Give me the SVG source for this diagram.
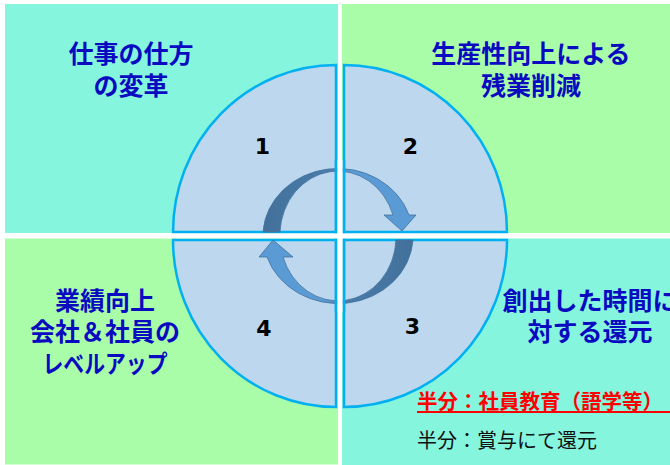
<svg xmlns="http://www.w3.org/2000/svg" width="670" height="465" viewBox="0 0 670 465">
<defs>
<style>
.teal{fill:#86F5DE}
.green{fill:#A9FDA8}
.pie{fill:#BDD7EE;stroke:#00B0F0;stroke-width:2.5}
.num{font-family:"DejaVu Sans","Liberation Sans",sans-serif;font-weight:bold;font-size:22px;fill:#000;text-anchor:middle}
.title{font-family:"Noto Sans CJK JP","Noto Sans",sans-serif;font-weight:bold;font-size:25px;fill:#0A0AC0;text-anchor:middle}
.red{font-family:"Noto Sans CJK JP",sans-serif;font-weight:bold;font-size:20.5px;fill:#FF0000}
.note{font-family:"Noto Sans CJK JP",sans-serif;font-size:20px;fill:#111}
.arrow{stroke:#41719C;stroke-width:0.8}
.edge{stroke:#00B0F0;stroke-width:2.5}
</style>
<linearGradient id="gUp" gradientUnits="userSpaceOnUse" x1="263" y1="0" x2="416" y2="0">
<stop offset="0" stop-color="#42709A"/>
<stop offset="0.42" stop-color="#4A7CAA"/>
<stop offset="0.58" stop-color="#5B9BD5"/>
<stop offset="1" stop-color="#5B9BD5"/>
</linearGradient>
<linearGradient id="gDown" gradientUnits="userSpaceOnUse" x1="413" y1="0" x2="259" y2="0">
<stop offset="0" stop-color="#42709A"/>
<stop offset="0.42" stop-color="#4A7CAA"/>
<stop offset="0.58" stop-color="#5B9BD5"/>
<stop offset="1" stop-color="#5B9BD5"/>
</linearGradient>
</defs>

<g id="backgrounds">
<rect class="teal" x="5" y="4" width="333" height="229"/>
<rect class="green" x="342" y="4" width="328" height="229"/>
<rect class="green" x="5" y="238.5" width="333" height="226"/>
<rect class="teal" x="342" y="238.5" width="328" height="226.5"/>
</g>

<g id="node-1">
<path class="pie" d="M336,232 L173,232 A163,167 0 0 1 336,65 Z"/>
<text class="num" x="262.5" y="154">1</text>
</g>
<g id="node-2">
<path class="pie" d="M344,232 L344,65 A163,167 0 0 1 507,232 Z"/>
<text class="num" x="410.5" y="154">2</text>
</g>
<g id="node-3">
<path class="pie" d="M344,240 L507,240 A163,167 0 0 1 344,407 Z"/>
<text class="num" x="412.5" y="334">3</text>
</g>
<g id="node-4">
<path class="pie" d="M336,240 L336,407 A163,167 0 0 1 173,240 Z"/>
<text class="num" x="264" y="336">4</text>
</g>

<g id="connectors">
<path class="arrow" fill="url(#gUp)" d="M263,232 A75,68 0 0 1 409,215 L416,215 L402,231 L384,215 L393,215 A58,64 0 0 0 280,232 Z"/>
<path class="arrow" fill="url(#gDown)" d="M413,240 A75,68 0 0 1 267,257 L259,257 L273,240 L293,257 L283,257 A58,64 0 0 0 396,240 Z"/>
</g>

<g id="gap-overlay">
<rect x="337.25" y="160" width="5.5" height="152" fill="#FFFFFF"/>
<line class="edge" x1="336" y1="160" x2="336" y2="233.25"/>
<line class="edge" x1="344" y1="160" x2="344" y2="233.25"/>
<line class="edge" x1="336" y1="238.75" x2="336" y2="312"/>
<line class="edge" x1="344" y1="238.75" x2="344" y2="312"/>
</g>

<g id="label-tl">
<text class="title" x="131" y="63">仕事の仕方</text>
<text class="title" x="131" y="95">の変革</text>
</g>
<g id="label-tr">
<text class="title" x="531" y="63">生産性向上による</text>
<text class="title" x="531" y="95">残業削減</text>
</g>
<g id="label-bl">
<text class="title" x="105" y="310">業績向上</text>
<text class="title" x="105" y="341">会社＆社員の</text>
<text class="title" x="105" y="373" textLength="125" lengthAdjust="spacingAndGlyphs">レベルアップ</text>
</g>
<g id="label-br">
<text class="title" x="590" y="310">創出した時間に</text>
<text class="title" x="590" y="341">対する還元</text>
<text class="red" x="417" y="408.5">半分：社員教育（語学等）</text>
<line x1="417" y1="412" x2="670" y2="412" stroke="#FF0000" stroke-width="1.8"/>
<text class="note" x="417" y="448">半分：賞与にて還元</text>
</g>
</svg>
